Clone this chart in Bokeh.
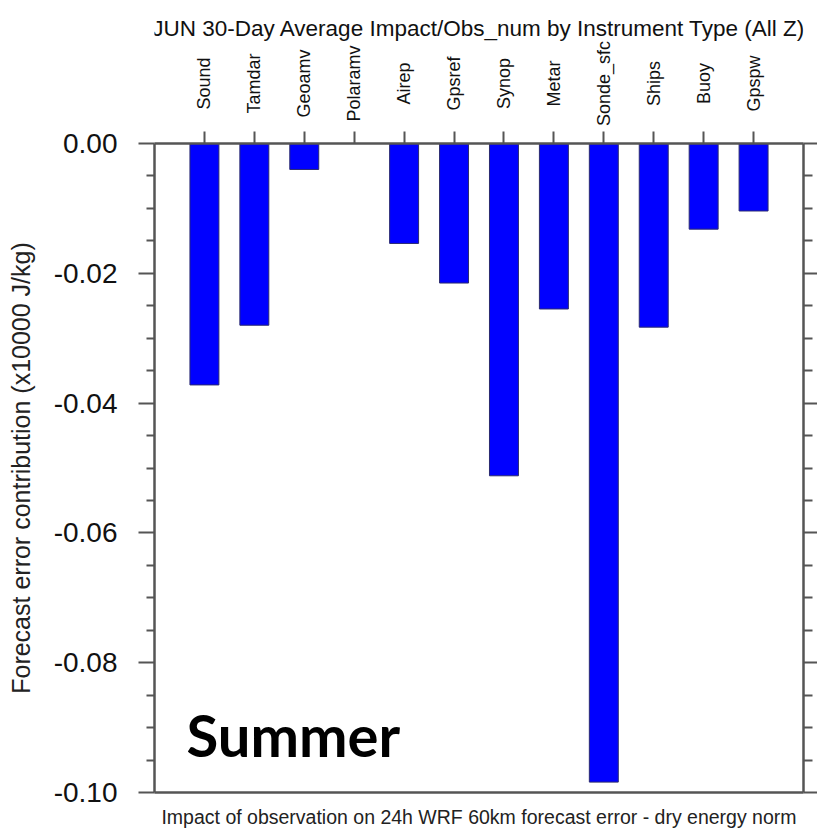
import math

from bokeh.core.properties import value
from bokeh.embed import file_html
from bokeh.layouts import column
from bokeh.models import (ColumnDataSource, CustomJSTickFormatter, FixedTicker,
                          Label, LabelSet, LinearAxis, PrintfTickFormatter,
                          Range1d)
from bokeh.plotting import figure
from bokeh.resources import INLINE

# Instrument types and their mean impact per observation (x10000 J/kg)
instruments = ["Sound", "Tamdar", "Geoamv", "Polaramv", "Airep", "Gpsref",
               "Synop", "Metar", "Sonde_sfc", "Ships", "Buoy", "Gpspw"]
impact = [-0.0372, -0.0280, -0.0040, 0.0, -0.0154, -0.0215,
          -0.0512, -0.0255, -0.0984, -0.0283, -0.0132, -0.0104]
positions = [1, 2, 3, 4, 5, 6, 7, 8, 9, 10, 11, 12]

y_major = [-0.10, -0.08, -0.06, -0.04, -0.02, 0.00]
y_minor = [-0.095, -0.09, -0.085, -0.075, -0.07, -0.065, -0.055, -0.05, -0.045,
           -0.035, -0.03, -0.025, -0.015, -0.01, -0.005]

TITLE = "JUN 30-Day Average Impact/Obs_num by Instrument Type (All Z)"
FONT = "Liberation Sans"
AXIS_COLOR = "#555555"

# page geometry: a header strip (title + instrument names) above the chart
W, H = 817, 836
BORDER_L, BORDER_R, BORDER_T, BORDER_B = 154, 14, 17, 44
AXIS_PX = 649
MAIN_H = AXIS_PX + BORDER_T + BORDER_B
HEAD_H = H - MAIN_H
ZERO_Y = HEAD_H + BORDER_T            # page row of the zero line
px = 0.10 / AXIS_PX                   # data units per pixel on the value axis

source = ColumnDataSource(data=dict(x=positions, top=[0.0] * len(impact),
                                    bottom=impact, name=instruments))
x_range = Range1d(0, 13)

# ---- main bar chart -------------------------------------------------------
p = figure(width=W, height=MAIN_H, title=None,
           output_backend="svg", toolbar_location=None,
           x_range=x_range, y_range=Range1d(-0.10, 0.0),
           x_axis_location=None, y_axis_location=None,
           min_border_left=BORDER_L, min_border_right=BORDER_R,
           min_border_top=BORDER_T, min_border_bottom=BORDER_B)
p.grid.visible = False
p.outline_line_color = None
p.background_fill_color = "white"
p.border_fill_color = "white"

p.vbar(x="x", width=0.58, top="top", bottom="bottom", source=source,
       fill_color="#0000ff", line_color="#2a2a70", line_width=1)

blank = CustomJSTickFormatter(code="return ''")


def style(axis):
    axis.axis_line_color = AXIS_COLOR
    axis.axis_line_width = 2.5
    axis.major_tick_line_color = AXIS_COLOR
    axis.major_tick_line_width = 2
    axis.minor_tick_line_color = AXIS_COLOR
    axis.minor_tick_line_width = 2
    axis.major_tick_in = 0
    axis.minor_tick_in = 0
    axis.major_label_standoff = 0


# left value axis
left = LinearAxis(ticker=FixedTicker(ticks=y_major, minor_ticks=y_minor),
                  formatter=PrintfTickFormatter(format="%.2f"),
                  axis_label="Forecast error contribution (x10000 J/kg)")
style(left)
left.major_tick_out = 16
left.minor_tick_out = 8
left.major_label_standoff = 21
left.major_label_text_font = FONT
left.major_label_text_font_size = "28px"
left.major_label_text_color = "#111111"
left.axis_label_text_font = FONT
left.axis_label_text_font_size = "25px"
left.axis_label_text_font_style = "normal"
left.axis_label_text_color = "#222222"
left.axis_label_standoff = 16
p.add_layout(left, "left")

# right mirror axis, ticks only
right = LinearAxis(ticker=FixedTicker(ticks=y_major, minor_ticks=y_minor),
                   formatter=blank)
style(right)
right.major_tick_out = 14
right.minor_tick_out = 9
p.add_layout(right, "right")

# top frame line with one tick per instrument
top = LinearAxis(ticker=FixedTicker(ticks=positions, minor_ticks=[]),
                 formatter=blank)
style(top)
top.major_tick_out = 12
top.minor_tick_out = 0
p.add_layout(top, "above")

# bottom frame line with the caption
bottom = LinearAxis(ticker=FixedTicker(ticks=[], minor_ticks=[]),
                    formatter=blank,
                    axis_label="Impact of observation on 24h WRF 60km forecast error - dry energy norm")
style(bottom)
bottom.major_tick_out = 0
bottom.minor_tick_out = 0
bottom.axis_label_text_font = FONT
bottom.axis_label_text_font_size = "19.5px"
bottom.axis_label_text_font_style = "normal"
bottom.axis_label_text_color = "#222222"
bottom.axis_label_standoff = 13
p.add_layout(bottom, "below")

season = Label(x=0.64, y=-0.0910, text="Summer", text_font="Lato",
               text_font_style="bold", text_font_size="58px",
               text_align="left", text_baseline="alphabetic", text_color="black")
p.add_layout(season)

# ---- header: instrument names and title -----------------------------------
# same value scale as the chart, continuing above zero
head = figure(width=W, height=HEAD_H, title=None, output_backend="svg",
              toolbar_location=None, x_range=x_range,
              y_range=Range1d(BORDER_T * px, ZERO_Y * px),
              x_axis_location=None, y_axis_location=None,
              min_border_left=BORDER_L, min_border_right=BORDER_R,
              min_border_top=0, min_border_bottom=0)
head.grid.visible = False
head.outline_line_color = None
head.background_fill_color = "white"
head.border_fill_color = "white"

head.add_layout(LabelSet(x="x", y=(ZERO_Y - 83) * px, text="name", source=source,
                         angle=math.pi / 2, text_align="center",
                         text_baseline="middle", text_font=value(FONT),
                         text_font_size="18px", text_color="#111111"))

head.add_layout(Label(x=6.5, y=(ZERO_Y - 28) * px, text=TITLE, text_align="center",
                      text_baseline="middle", text_font=FONT,
                      text_font_size="22.5px", text_color="#111111"))

page = column(head, p, spacing=0)
open("out.html", "w").write(file_html(page, INLINE))
